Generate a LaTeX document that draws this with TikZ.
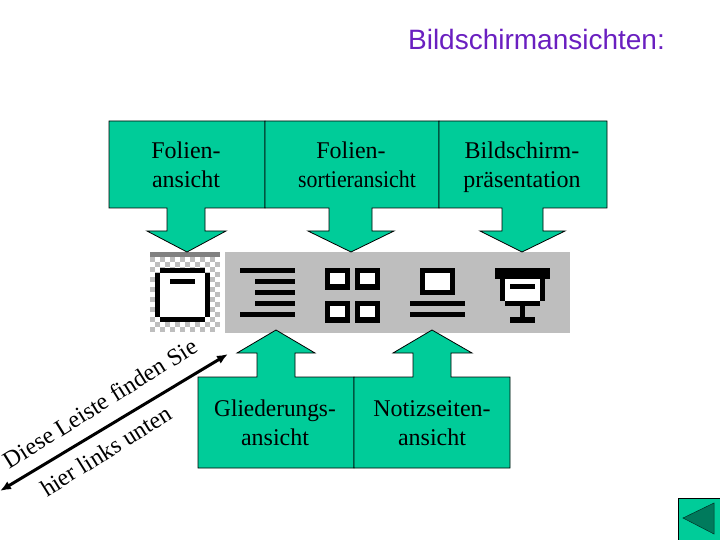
\documentclass[tikz,border=0pt]{standalone}
\usepackage{graphicx}
\usepackage{fontspec}
\usetikzlibrary{arrows.meta}
\setmainfont{Liberation Serif}
\newfontfamily\titlefont{Liberation Sans}
\definecolor{Mint}{HTML}{00CC99}
\definecolor{DarkMint}{HTML}{007A5C}
\definecolor{Violet}{HTML}{6A1FC0}
\definecolor{BarGrey}{HTML}{BEBEBE}
\definecolor{EdgeGrey}{HTML}{808080}
\begin{document}
\begin{tikzpicture}[x=1pt,y=-1pt,
  callout/.style={draw=black,line width=0.8pt,fill=Mint,line join=miter},
  lbl/.style={font=\fontsize{24}{29}\selectfont,align=center,inner sep=0pt,
    execute at begin node=\strut,execute at end node=\strut},
  slant/.style={font=\fontsize{24}{29}\selectfont,rotate=32,inner sep=0pt},
  ink/.style={fill=black},
  blank/.style={fill=white},
  arr/.style={{Latex[length=11pt,width=9pt]}-{Latex[length=11pt,width=9pt]},line width=3pt,draw=black}
]
  \useasboundingbox (0,0) rectangle (720,540);

  % title
  \node[font=\titlefont\fontsize{28}{32}\selectfont,text=Violet,inner sep=0pt] (title) at (536.5,39) {Bildschirmansichten:};

  % toolbar
  \fill[BarGrey] (225,252) rectangle (570,333);
  \fill[EdgeGrey] (150,252) rectangle (220,257);
  \foreach \i in {0,...,13}
    \foreach \j in {0,...,14} {
      \pgfmathtruncatemacro{\odd}{mod(\i+\j,2)}
      \ifnum\odd=0
        \fill[BarGrey] (150+5*\i,257+5*\j) rectangle +(5,5);
      \fi
    }

  % top callouts
  \draw[callout] (109,121) -- (265,121) -- (265,208) -- (205,208) -- (205,231) -- (226,231) -- (187,252)
    -- (147,231) -- (167,231) -- (167,208) -- (109,208) -- cycle;
  \draw[callout] (265,121) -- (439,121) -- (439,208) -- (372,208) -- (372,231) -- (394,231) -- (351,252)
    -- (308,231) -- (329,231) -- (329,208) -- (265,208) -- cycle;
  \draw[callout] (439,121) -- (607,121) -- (607,208) -- (543,208) -- (543,231) -- (565,231) -- (522,252)
    -- (480,231) -- (502,231) -- (502,208) -- (439,208) -- cycle;
  \node[lbl] (folien)  at (186,169) {Folien-\\ansicht};
  \node[lbl] (sortier) at (357,169) {\hspace*{-12pt}Folien-\\\scalebox{0.91}[1]{sortieransicht}};
  \node[lbl] (praes)   at (522,169) {Bildschirm-\\präsentation};

  % bottom callouts
  \draw[callout] (198,377) -- (257,377) -- (257,353) -- (237,353) -- (276,330) -- (315,353) -- (295,353)
    -- (295,377) -- (354,377) -- (354,468) -- (198,468) -- cycle;
  \draw[callout] (354,377) -- (413,377) -- (413,353) -- (393,353) -- (432,330) -- (472,353) -- (451,353)
    -- (451,377) -- (510,377) -- (510,468) -- (354,468) -- cycle;
  \node[lbl] (gliederung) at (275,427) {\scalebox{0.97}[1]{Gliederungs-}\\ansicht};
  \node[lbl] (notiz) at (432,427) {Notizseiten-\\ansicht};

  % icon: folienansicht
  \fill[blank] (160,273) rectangle (205,317);
  \fill[ink] (160,268) rectangle (205,273);
  \fill[ink] (160,317) rectangle (205,322);
  \fill[ink] (155,273) rectangle (160,317);
  \fill[ink] (205,273) rectangle (210,317);
  \fill[ink] (170,279) rectangle (195,284);

  % icon: gliederung
  \fill[ink] (240,268) rectangle (295,273);
  \foreach \y in {279,290,301}
    \fill[ink] (255,\y) rectangle (295,\y+5);
  \fill[ink] (240,312) rectangle (295,317);

  % icon: sortierung
  \foreach \x in {325,355}
    \foreach \y in {268,301} {
      \fill[ink] (\x,\y) rectangle (\x+25,\y+22);
      \fill[blank] (\x+5,\y+5) rectangle (\x+20,\y+16);
    }

  % icon: notizen
  \fill[ink] (420,268) rectangle (455,295);
  \fill[blank] (425,273) rectangle (450,290);
  \fill[ink] (410,301) rectangle (465,306);
  \fill[ink] (410,312) rectangle (465,317);

  % icon: projektor
  \fill[ink] (495,268) rectangle (550,279);
  \fill[ink] (500,279) rectangle (545,301);
  \fill[blank] (505,279) rectangle (540,301);
  \fill[ink] (510,284) rectangle (535,289);
  \fill[ink] (505,301) rectangle (540,306);
  \fill[ink] (520,306) rectangle (525,317);
  \fill[ink] (510,317) rectangle (535,323);

  % hint
  \coordinate (hintL) at (0,491);
  \coordinate (hintR) at (228,354);
  \draw[arr] (hintL) -- (hintR);
  \node[slant] (upper) at (100,403) {Diese Leiste finden Sie};
  \node[slant] (lower) at (106,451) {hier links unten};

  % back button
  \fill[Mint,draw=black,line width=0.8pt] (678.5,498.5) rectangle (720,540);
  \fill[DarkMint,draw=black!60!DarkMint,line width=0.5pt] (714,503) -- (683,518) -- (714,534) -- cycle;
\end{tikzpicture}
\end{document}
